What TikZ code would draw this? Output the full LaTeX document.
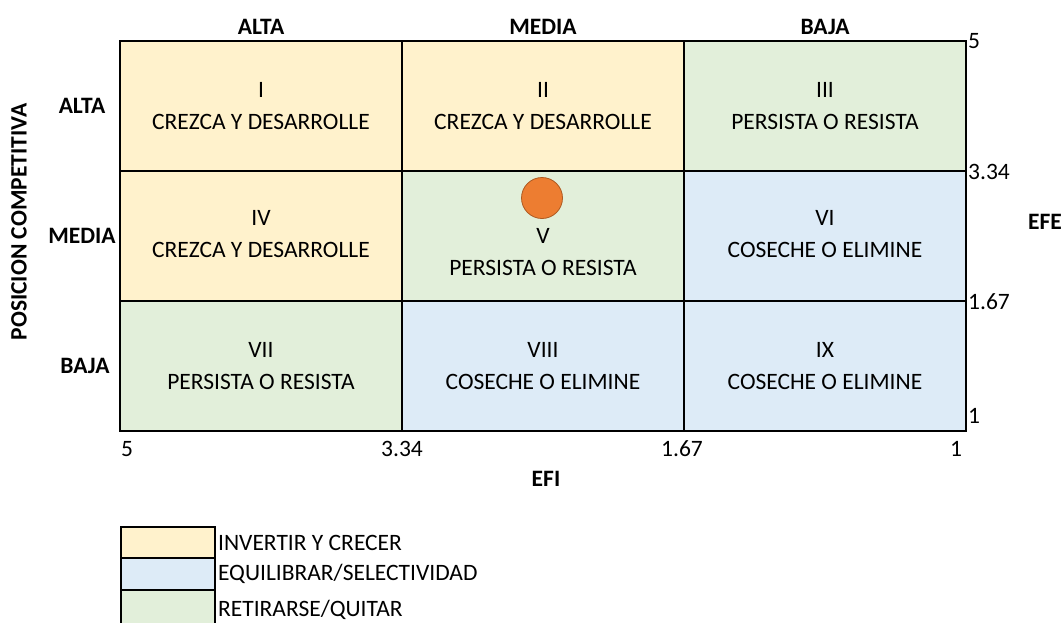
\documentclass[tikz,border=0pt]{standalone}
\usepackage{fontspec}
\setmainfont{Carlito}
\usetikzlibrary{positioning}
\definecolor{invertir}{HTML}{FFF2CC}
\definecolor{equilibrar}{HTML}{DDEBF7}
\definecolor{retirarse}{HTML}{E2EFDA}
\definecolor{punto}{HTML}{ED7D31}
\definecolor{puntoborde}{HTML}{AE5A21}

\begin{document}
\begin{tikzpicture}[x=1pt,y=-1pt,
  cell/.style={draw=black,line width=1.8pt,minimum width=282pt,minimum height=130pt,inner sep=0pt},
  celltext/.style={align=center,font=\fontsize{23.5}{32}\selectfont},
  tick/.style={font=\fontsize{23.5}{26}\selectfont,inner sep=1pt},
  axis/.style={font=\bfseries\fontsize{23.5}{26}\selectfont,inner sep=1pt},
  legbox/.style={draw=black,line width=1.8pt,minimum width=94pt,minimum height=31.5pt,inner sep=0pt},
  legtext/.style={font=\fontsize{23.5}{26}\selectfont,anchor=west,inner sep=1pt}]
\useasboundingbox (0,0) rectangle (1063,622);

% cells
\node[cell,fill=invertir] (c11) at (261,106) {};
\node[cell,fill=invertir] (c12) at (543,106) {};
\node[cell,fill=retirarse] (c13) at (825,106) {};
\node[cell,fill=invertir] (c21) at (261,236) {};
\node[cell,fill=retirarse] (c22) at (543,236) {};
\node[cell,fill=equilibrar] (c23) at (825,236) {};
\node[cell,fill=retirarse] (c31) at (261,366) {};
\node[cell,fill=equilibrar] (c32) at (543,366) {};
\node[cell,fill=equilibrar] (c33) at (825,366) {};

% cell texts
\node[celltext] at (c11.center) {I\\CREZCA Y DESARROLLE};
\node[celltext] at (c12.center) {II\\CREZCA Y DESARROLLE};
\node[celltext] at (c13.center) {III\\PERSISTA O RESISTA};
\node[celltext] at ([yshift=2pt]c21.center) {IV\\CREZCA Y DESARROLLE};
\node[celltext] at ([yshift=-16pt]c22.center) {V\\PERSISTA O RESISTA};
\node[celltext] at ([yshift=2pt]c23.center) {VI\\COSECHE O ELIMINE};
\node[celltext] at (c31.center) {VII\\PERSISTA O RESISTA};
\node[celltext] at (c32.center) {VIII\\COSECHE O ELIMINE};
\node[celltext] at (c33.center) {IX\\COSECHE O ELIMINE};

% position
\node[circle,fill=punto,draw=puntoborde,line width=0.8pt,minimum size=41pt,inner sep=0pt] (pos) at (542,198) {};

% column and row headers
\node[axis] (hcol1) at (261,27) {ALTA};
\node[axis] (hcol2) at (543,27) {MEDIA};
\node[axis] (hcol3) at (825,27) {BAJA};
\node[axis] (hrow1) at (82,106) {ALTA};
\node[axis] (hrow2) at (82,236) {MEDIA};
\node[axis] (hrow3) at (85,366) {BAJA};
\node[axis,rotate=90] (efe) at (19,222) {POSICION COMPETITIVA};
\node[axis] (efeaxis) at (1045,222) {EFE};
\node[axis] (efi) at (546,479) {EFI};

% ticks
\node[tick,anchor=west] (r5) at (967,41) {5};
\node[tick,anchor=west] (r334) at (967,171.5) {3.34};
\node[tick,anchor=west] (r167) at (967,301.5) {1.67};
\node[tick,anchor=west] (r1) at (967,416) {1};
\node[tick] (b5) at (127,449) {5};
\node[tick] (b334) at (402,449) {3.34};
\node[tick] (b167) at (682,449) {1.67};
\node[tick] (b1) at (956,449) {1};

% legend
\node[legbox,fill=invertir] (l1) at (168,542.5) {};
\node[legbox,fill=equilibrar] (l2) at (168,574) {};
\node[legbox,fill=retirarse,minimum height=36pt] (l3) at (168,608) {};
\node[legtext] at ([xshift=1pt]l1.east) {INVERTIR Y CRECER};
\node[legtext] at ([xshift=1pt]l2.east) {EQUILIBRAR/SELECTIVIDAD};
\node[legtext] at ([xshift=1pt,yshift=-2.25pt]l3.east) {RETIRARSE/QUITAR};
\end{tikzpicture}
\end{document}
